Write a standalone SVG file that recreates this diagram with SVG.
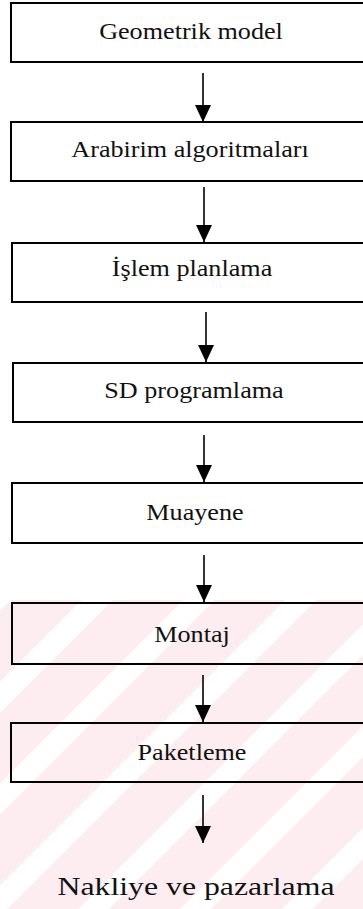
<svg xmlns="http://www.w3.org/2000/svg" width="363" height="909" viewBox="0 0 363 909">
<defs>
<style>
.box{fill:none;stroke:#000;stroke-width:2}
.lbl{font-family:"Liberation Serif","Times New Roman",serif;font-size:24px;fill:#111;text-anchor:middle}
.con{stroke:#000;stroke-width:1.6;fill:none;marker-end:url(#ah)}
</style>
<marker id="ah" viewBox="0 0 17 16" refX="17" refY="8" markerWidth="17" markerHeight="16" markerUnits="userSpaceOnUse" orient="auto">
<path d="M0,0 L17,8 L0,16 z" fill="#000"/>
</marker>
<pattern id="stripes" patternUnits="userSpaceOnUse" width="72" height="72" patternTransform="rotate(45)">
<rect x="0" y="0" width="50" height="72" fill="#fdedf0"/>
</pattern>
</defs>
<rect width="363" height="909" fill="#fff"/>
<g id="watermark">
<rect x="0" y="600" width="363" height="309" fill="url(#stripes)"/>
</g>
<g id="connectors">
<line class="con" x1="203" y1="73" x2="203" y2="122"/>
<line class="con" x1="204" y1="187" x2="204" y2="242"/>
<line class="con" x1="206" y1="312" x2="206" y2="362"/>
<line class="con" x1="204" y1="435" x2="204" y2="482"/>
<line class="con" x1="204" y1="555" x2="204" y2="602"/>
<line class="con" x1="203" y1="675" x2="203" y2="722"/>
<line class="con" x1="203" y1="795" x2="203" y2="843"/>
</g>
<g id="n1"><rect class="box" x="11" y="3" width="360" height="59"/><text class="lbl" transform="translate(191,39) scale(1.09,1)">Geometrik model</text></g>
<g id="n2"><rect class="box" x="11" y="122" width="360" height="59"/><text class="lbl" transform="translate(190,157) scale(1.09,1)">Arabirim algoritmaları</text></g>
<g id="n3"><rect class="box" x="12" y="243" width="360" height="59"/><text class="lbl" transform="translate(192,276) scale(1.09,1)">İşlem planlama</text></g>
<g id="n4"><rect class="box" x="13" y="363" width="360" height="59"/><text class="lbl" transform="translate(194,398) scale(1.09,1)">SD programlama</text></g>
<g id="n5"><rect class="box" x="12" y="483" width="360" height="60"/><text class="lbl" transform="translate(195,520) scale(1.09,1)">Muayene</text></g>
<g id="n6"><rect class="box" x="12" y="603" width="360" height="61"/><text class="lbl" transform="translate(192,642) scale(1.09,1)">Montaj</text></g>
<g id="n7"><rect class="box" x="11" y="723" width="360" height="59"/><text class="lbl" transform="translate(192,760) scale(1.09,1)">Paketleme</text></g>
<g id="n8"><text class="lbl" x="196" y="895" style="font-size:26px" textLength="277" lengthAdjust="spacingAndGlyphs">Nakliye ve pazarlama</text></g>
</svg>
